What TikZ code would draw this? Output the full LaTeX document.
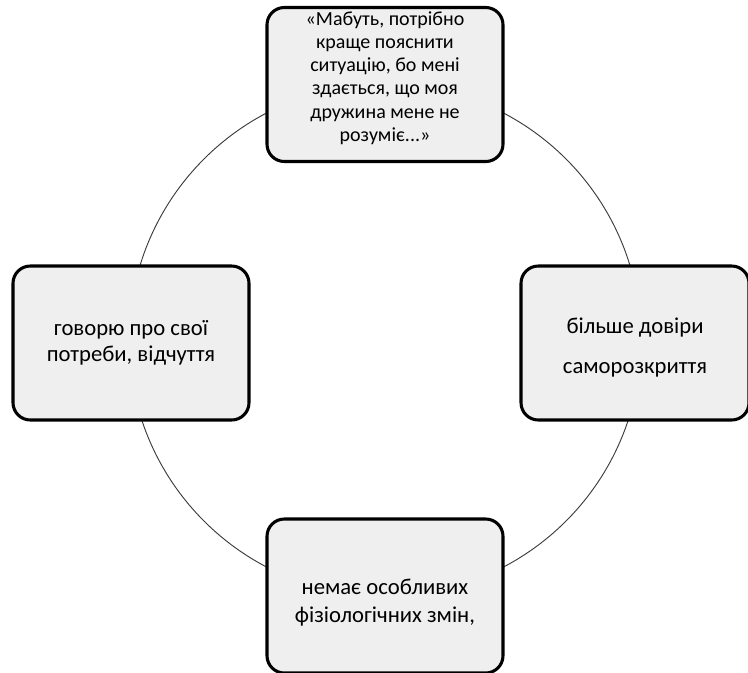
\documentclass[tikz,border=0pt]{standalone}
\usepackage{fontspec}
\setmainfont{Carlito}
\begin{document}
\begin{tikzpicture}[x=0.75pt,y=0.75pt,yscale=-1,xscale=1,
  stage/.style={draw=black, line width=2.3pt, fill={rgb,255:red,239;green,239;blue,239},
    rounded corners=13pt, minimum width=177pt, minimum height=115.5pt, align=center,
    font=\fontsize{17}{19}\selectfont}]
\useasboundingbox (0,0) rectangle (748,672);

%Shape: Circle
\coordinate (centre) at (385,340);
\draw [color={rgb,255:red,60;green,60;blue,60}, line width=0.7pt] (centre) circle [radius=192pt];

% Stage boxes
\node [stage] (situation) at (385,84.5) {};
\node [align=center, font=\fontsize{15}{17.4}\selectfont] (situationtext) at (385,78)
  {«Мабуть, потрібно\\ краще пояснити\\ ситуацію, бо мені\\ здається, що моя\\ дружина мене не\\ розуміє...»};
\node [stage, minimum width=171pt] (trust) at (635,343)
  {\rule{0pt}{19pt}більше довіри\\[11pt] саморозкриття};
\node [stage] (changes) at (385,596)
  {\rule{0pt}{22pt}немає особливих\\[2pt] фізіологічних змін,};
\node [stage] (needs) at (131,343)
  {говорю про свої\\ потреби, відчуття};

\end{tikzpicture}
\end{document}
